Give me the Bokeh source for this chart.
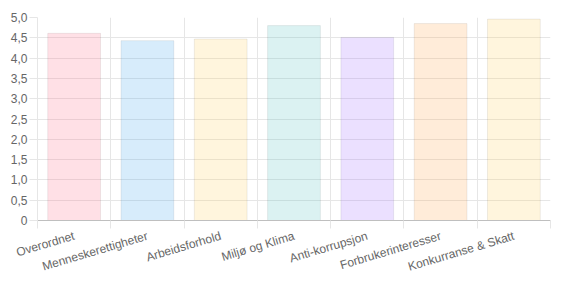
from bokeh.plotting import figure
from bokeh.models import FixedTicker, ColumnDataSource, Range1d, CustomJSTickFormatter
from bokeh.embed import file_html
from bokeh.resources import INLINE

categories = ["Overordnet", "Menneskerettigheter", "Arbeidsforhold", "Miljø og Klima",
              "Anti-korrupsjon", "Forbrukerinteresser", "Konkurranse & Skatt"]
values = [4.61, 4.43, 4.47, 4.80, 4.51, 4.85, 4.96]
colors = ["rgba(255,99,132,0.2)", "rgba(54,162,235,0.2)", "rgba(255,206,86,0.2)",
          "rgba(75,192,192,0.2)", "rgba(153,102,255,0.2)", "rgba(255,159,64,0.2)",
          "rgba(255,206,86,0.2)"]
y_ticks = [0, 0.5, 1, 1.5, 2, 2.5, 3, 3.5, 4, 4.5, 5]

n = len(categories)
centers = [i + 0.5 for i in range(n)]
bounds = list(range(n + 1))

src = ColumnDataSource(dict(x=centers, top=values, color=colors))

p = figure(frame_width=513, frame_height=203, output_backend="svg", toolbar_location=None,
           x_range=Range1d(0, n), y_range=Range1d(0, 5),
           min_border_left=37, min_border_right=12, min_border_top=17, min_border_bottom=10)
p.outline_line_color = None
p.background_fill_color = "white"

p.vbar(x="x", top="top", bottom=0, width=0.72, source=src, fill_color="color",
       line_color="black", line_alpha=0.07, line_width=1)

grid_col = "#e6e6e6"
font = "Liberation Sans"

# x axis
p.xaxis.ticker = FixedTicker(ticks=centers, minor_ticks=bounds)
p.xaxis.major_label_overrides = {c: lab for c, lab in zip(centers, categories)}
p.xaxis.major_tick_out = 0
p.xaxis.major_tick_in = 0
p.xaxis.minor_tick_out = 8
p.xaxis.minor_tick_in = 0
p.xaxis.minor_tick_line_color = grid_col
p.xaxis.axis_line_color = "#bfbfbf"
p.xaxis.major_label_orientation = 0.29
p.xaxis.major_label_standoff = 7
p.xaxis.major_label_text_font = font
p.xaxis.major_label_text_font_size = "12px"
p.xaxis.major_label_text_color = "#666666"
p.xgrid.ticker = FixedTicker(ticks=bounds)
p.xgrid.grid_line_color = grid_col

# y axis
p.yaxis.ticker = FixedTicker(ticks=y_ticks)
p.yaxis.formatter = CustomJSTickFormatter(code="return tick == 0 ? '0' : tick.toFixed(1).replace('.', ',');")
p.yaxis.major_tick_out = 8
p.yaxis.major_tick_in = 0
p.yaxis.minor_tick_line_color = None
p.yaxis.major_tick_line_color = grid_col
p.yaxis.axis_line_color = grid_col
p.yaxis.major_label_standoff = 2
p.yaxis.major_label_text_font = font
p.yaxis.major_label_text_font_size = "12px"
p.yaxis.major_label_text_color = "#666666"
p.ygrid.grid_line_color = grid_col

open("out.html", "w").write(file_html(p, INLINE))
